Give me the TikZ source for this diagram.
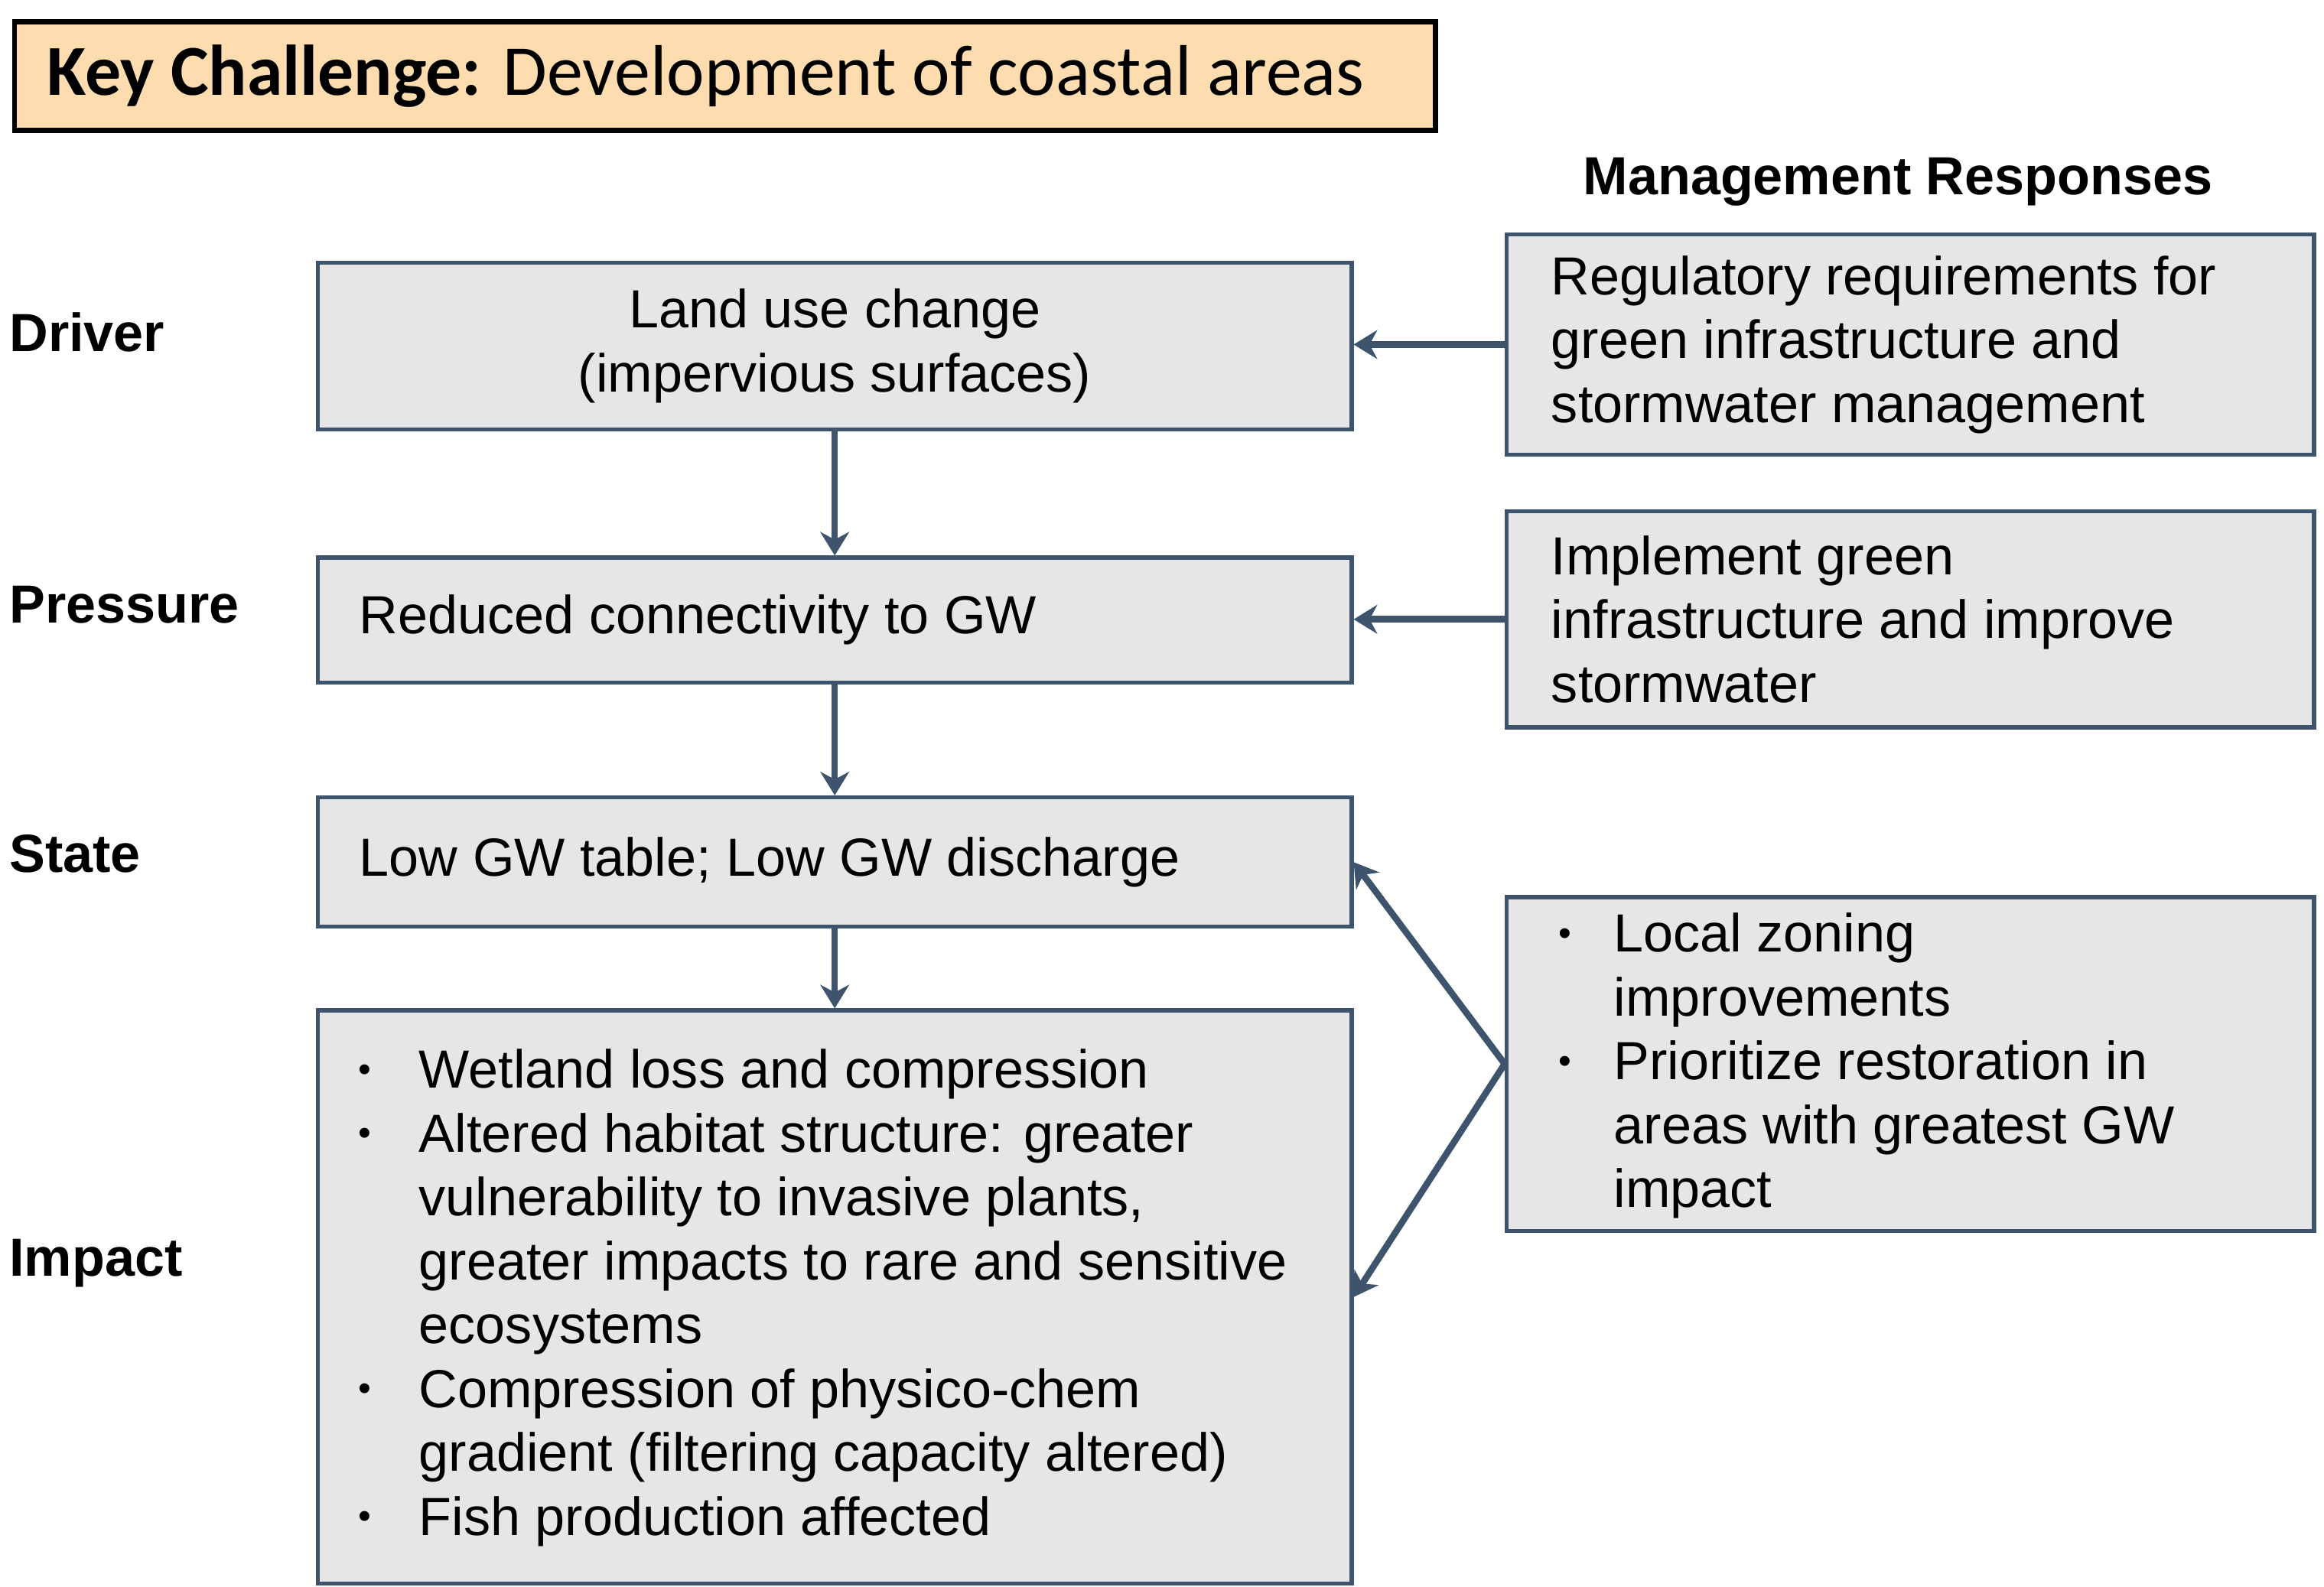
\documentclass[tikz,border=0pt]{standalone}
\usepackage{fontspec}
\setmainfont{Liberation Sans}
\newfontfamily\challengefont{Carlito}
\usetikzlibrary{arrows.meta}
\definecolor{boxline}{RGB}{62,84,108}
\definecolor{boxfill}{RGB}{230,230,230}
\definecolor{keyfill}{RGB}{253,220,176}
\newcommand{\gwsize}{\fontsize{20.5}{24.4}\selectfont}
\newcommand{\gwitem}[2][0.82cm]{\par\noindent\hangindent=#1\hangafter=1%
    \makebox[#1][l]{\raisebox{2.5pt}{\fontsize{14}{14}\selectfont\textbullet}}#2}
\begin{document}
\begin{tikzpicture}[
        font=\gwsize,
        dpsir/.style={draw=boxline, line width=1.5pt, fill=boxfill, anchor=north west,
            minimum width=13.88cm, inner ysep=0pt},
        response/.style={dpsir, minimum width=10.84cm},
        layer/.style={anchor=west, inner sep=0pt, font=\gwsize\bfseries},
        link/.style={draw=boxline, line width=2.5pt, -{Stealth[length=9pt,width=11pt]}}
    ]
            \def\leftx{4.24}
            \def\rightx{20.2}
            \useasboundingbox (0,0) rectangle (31.2,-21.31);
            \node[draw=black, line width=2pt, fill=keyfill, anchor=north west, minimum width=19.08cm,
                minimum height=1.46cm, inner xsep=0.44cm, text width=18.2cm, align=flush left,
                font=\challengefont\fontsize{27.4}{30}\selectfont] (KeyChallenge) at (0.16,-0.26)
                {\textbf{Key Challenge:} Development of coastal areas};
            \node[layer, anchor=center] (ResponseTitle) at (25.48,-2.44) {Management Responses};
            % DPSIR chain
            \node[dpsir, minimum height=2.24cm, align=center] (DriverBox) at (\leftx,-3.5)
                {Land use change\\(impervious surfaces)};
            \node[dpsir, minimum height=1.68cm, inner xsep=0.56cm, text width=12.76cm, align=flush left] (PressureBox) at (\leftx,-7.46)
                {Reduced connectivity to GW};
            \node[dpsir, minimum height=1.74cm, inner xsep=0.56cm, text width=12.76cm, align=flush left] (StateBox) at (\leftx,-10.68)
                {Low GW table; Low GW discharge};
            \node[dpsir, minimum height=7.7cm, inner xsep=0.2cm, text width=13.48cm, align=flush left] (ImpactBox) at (\leftx,-13.54)
                {\leftskip=0.34cm
                 \gwitem{Wetland loss and compression}
                 \gwitem{Altered habitat structure: greater\newline vulnerability to invasive plants,\newline greater impacts to rare and sensitive\newline ecosystems}
                 \gwitem{Compression of physico-chem\newline gradient (filtering capacity altered)}
                 \gwitem{Fish production affected}\par\kern 9pt};
            \node[layer] (DriverLabel) at (0.12,-4.46) {Driver};
            \node[layer] (PressureLabel) at (0.12,-8.12) {Pressure};
            \node[layer] (StateLabel) at (0.12,-11.46) {State};
            \node[layer] (ImpactLabel) at (0.12,-16.96) {Impact};
            % management responses
            \node[response, minimum height=2.96cm, inner xsep=0.6cm, text width=9.64cm, align=flush left] (ResponseA) at (\rightx,-3.12)
                {Regulatory requirements for\\green infrastructure and\\stormwater management};
            \node[response, minimum height=2.9cm, inner xsep=0.6cm, text width=9.64cm, align=flush left] (ResponseB) at (\rightx,-6.84)
                {Implement green\\infrastructure and improve\\stormwater};
            \node[response, minimum height=4.48cm, inner xsep=0.2cm, text width=10.44cm, align=flush left] (ResponseC) at (\rightx,-12.02)
                {\leftskip=0.5cm\par\kern-8pt
                 \gwitem[0.74cm]{Local zoning\newline improvements}
                 \gwitem[0.74cm]{Prioritize restoration in\newline areas with greatest GW\newline impact}\par};
            \draw[link] (DriverBox.south) -- (PressureBox.north);
            \draw[link] (PressureBox.south) -- (StateBox.north);
            \draw[link] (StateBox.south) -- (ImpactBox.north);
            \draw[link] (ResponseA.west) -- (ResponseA.west -| DriverBox.east);
            \draw[link] (ResponseB.west) -- (ResponseB.west -| PressureBox.east);
            \draw[link] (ResponseC.west) -- (StateBox.east);
            \draw[link] (ResponseC.west) -- (ImpactBox.east);
        \end{tikzpicture}
\end{document}
